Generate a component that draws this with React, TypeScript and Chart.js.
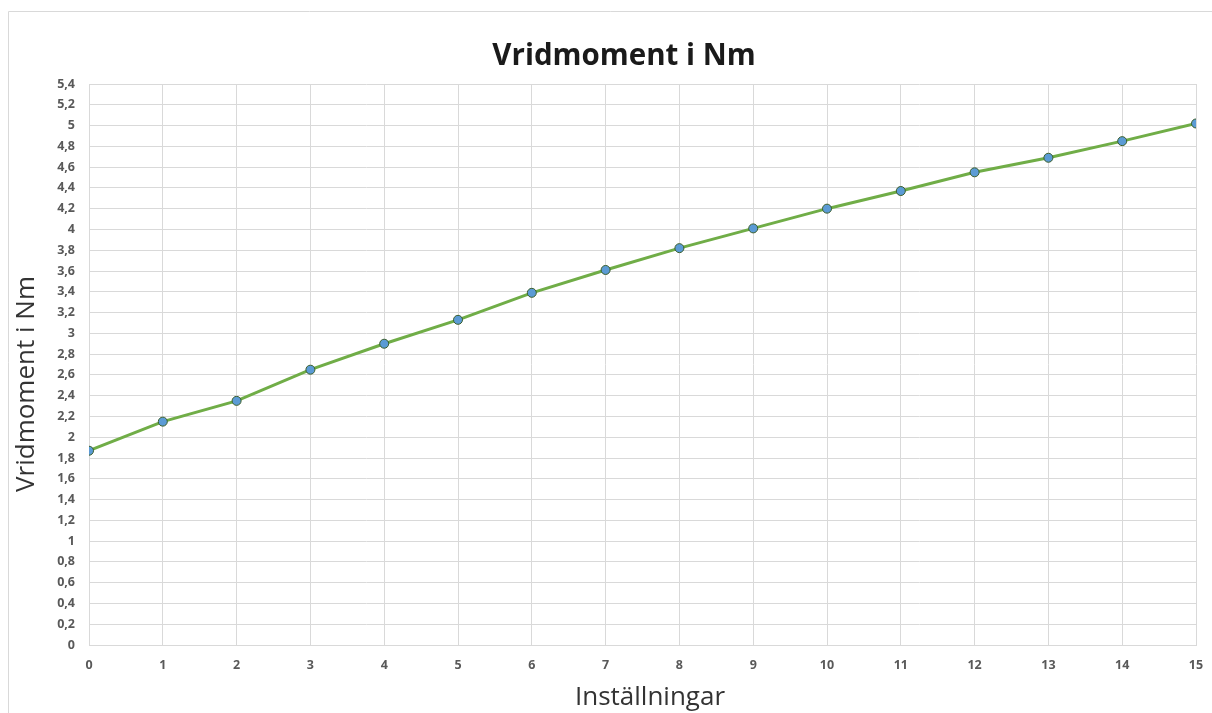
import React, { useEffect, useRef } from "react";
import { Chart, registerables } from "chart.js";

Chart.register(...registerables);

const settings: number[] = [0, 1, 2, 3, 4, 5, 6, 7, 8, 9, 10, 11, 12, 13, 14, 15];
const torque: number[] = [1.87, 2.15, 2.35, 2.65, 2.9, 3.13, 3.39, 3.61, 3.82, 4.01, 4.2, 4.37, 4.55, 4.69, 4.85, 5.02];
const chartTitle = "Vridmoment i Nm";
const xTitle = "Inställningar";
const yTitle = "Vridmoment i Nm";

const FONT = "'Open Sans', 'DejaVu Sans', sans-serif";

const decorPlugin = {
  id: "decor",
  beforeDraw(chart: any) {
    const ctx = chart.ctx;
    ctx.save();
    ctx.strokeStyle = "#d9d9d9";
    ctx.lineWidth = 1;
    ctx.beginPath();
    ctx.moveTo(8.5, chart.height);
    ctx.lineTo(8.5, 11.5);
    ctx.lineTo(chart.width, 11.5);
    ctx.stroke();
    ctx.restore();
  },
  afterDraw(chart: any) {
    const ctx = chart.ctx;
    ctx.save();
    ctx.textAlign = "center";
    ctx.textBaseline = "alphabetic";
    ctx.fillStyle = "#1a1a1a";
    ctx.font = `bold 29.5px ${FONT}`;
    ctx.fillText(chartTitle, 624, 65);
    ctx.fillStyle = "#333333";
    ctx.font = `26px ${FONT}`;
    ctx.fillText(xTitle, 650, 705);
    ctx.translate(34, 384);
    ctx.rotate(-Math.PI / 2);
    ctx.fillText(yTitle, 0, 0);
    ctx.restore();
  },
};

function fmt(v: number): string {
  const r = Math.round(v * 10) / 10;
  return String(r).replace(".", ",");
}

export default function App() {
  const ref = useRef<HTMLCanvasElement | null>(null);
  useEffect(() => {
    if (!ref.current) return;
    const chart = new Chart(ref.current, {
      type: "line",
      data: {
        datasets: [
          {
            data: settings.map((s, i) => ({ x: s, y: torque[i] })),
            borderColor: "#70ad47",
            borderWidth: 3,
            pointRadius: 4.5,
            pointBackgroundColor: "#5b9bd5",
            pointBorderColor: "#3b5e2b",
            pointBorderWidth: 1,
            tension: 0,
          },
        ],
      },
      options: {
        animation: false,
        responsive: false,
        maintainAspectRatio: false,
        layout: { padding: { left: 0, right: 16, top: 84, bottom: 0 } },
        plugins: { legend: { display: false }, title: { display: false }, tooltip: { enabled: false } },
        scales: {
          x: {
            type: "linear",
            min: 0,
            max: 15,
            afterFit: (s: any) => {
              s.height = 68;
              s.paddingRight = 0;
              s.paddingLeft = 0;
            },
            ticks: {
              stepSize: 1,
              padding: 13,
              color: "#595959",
              font: { family: FONT, size: 12.5, weight: "bold" },
              maxRotation: 0,
            },
            grid: { color: "#d9d9d9", drawTicks: false },
            border: { color: "#d9d9d9" },
          },
          y: {
            min: 0,
            max: 5.4,
            afterFit: (s: any) => {
              s.width = 89;
            },
            ticks: {
              stepSize: 0.2,
              padding: 14,
              color: "#595959",
              font: { family: FONT, size: 12.5, weight: "bold" },
              callback: (v: any) => fmt(Number(v)),
            },
            grid: { color: "#d9d9d9", drawTicks: false },
            border: { color: "#d9d9d9" },
          },
        },
      },
      plugins: [decorPlugin],
    } as any);
    return () => chart.destroy();
  }, []);
  return (
    <div style={{ position: "fixed", left: 0, top: 0, width: 1212, height: 713, background: "#fff" }}>
      <canvas ref={ref} width={1212} height={713} style={{ display: "block", width: 1212, height: 713 }} />
    </div>
  );
}
